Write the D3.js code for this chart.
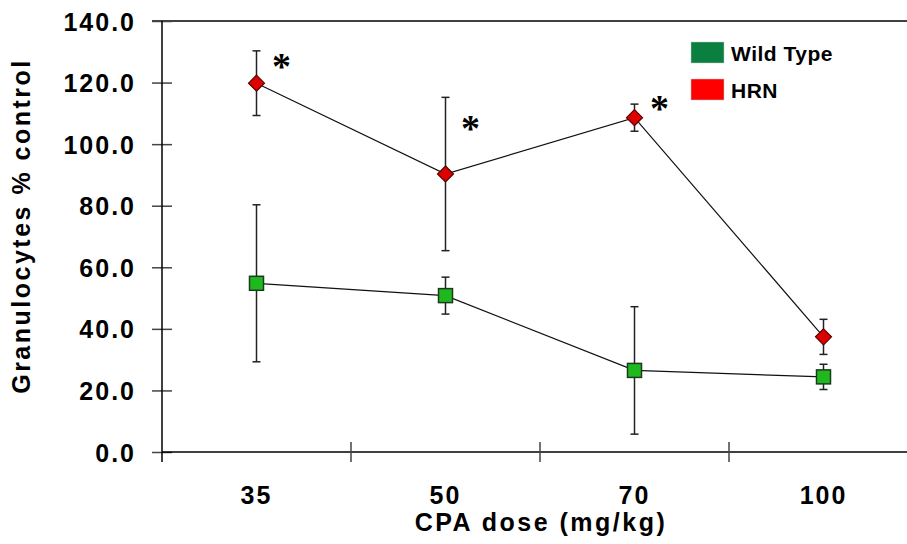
<!DOCTYPE html>
<html>
<head>
<meta charset="utf-8">
<script src="https://cdn.jsdelivr.net/npm/d3@7"></script>
<style>
  body { margin: 0; background: #fff; }
  svg { display: block; }
  text { font-family: "Liberation Sans", Arial, sans-serif; font-weight: bold; fill: #000; }
</style>
</head>
<body>
<div id="main"></div>
<script>
const W = 907;
const H = 544;

// data
const doses = ["35", "50", "70", "100"];
const wildType = [54.8, 50.8, 26.5, 24.4];
const wildTypeErr = [25.5, 6.0, 20.7, 4.1];
const hrn = [119.8, 90.3, 108.6, 37.4];
const hrnErr = [10.5, 24.9, 4.4, 5.7];
const starDoses = ["35", "50", "70"];
const starValues = [127.4, 107.3, 113.8];
const yTicks = [0, 20, 40, 60, 80, 100, 120, 140];
const legendLabels = ["Wild Type", "HRN"];
const legendColors = ["#0a7f3f", "#ff0000"];

const margin = { left: 162, right: 918, top: 21, bottom: 452 };

var svg = d3.select("#main").append("svg")
    .attr("width", W)
    .attr("height", H);

var x = d3.scaleBand().domain(doses).range([margin.left, margin.right]);
var y = d3.scaleLinear().domain([0, 140]).range([margin.bottom, margin.top]);
var cx = d => x(d) + x.bandwidth() / 2;

// top frame line
svg.append("line")
    .attr("x1", margin.left - 10).attr("x2", margin.right)
    .attr("y1", y(140)).attr("y2", y(140))
    .attr("stroke", "#000").attr("stroke-width", 1.5);

// y axis
var yAxis = svg.append("g")
    .attr("transform", `translate(${margin.left},0)`)
    .call(d3.axisLeft(y).tickValues(yTicks).tickSize(10).tickPadding(0).tickFormat(d3.format(".1f")));
yAxis.select(".domain").remove();
yAxis.selectAll(".tick line").attr("x1", -10).attr("x2", 10).attr("stroke", "#444").attr("stroke-width", 1.5);
yAxis.selectAll(".tick text")
    .attr("x", -26)
    .attr("dy", "0.36em")
    .style("font-size", "25px")
    .style("letter-spacing", "2px")
    .style("font-family", "'Liberation Sans', Arial, sans-serif")
    .style("font-weight", "bold");
svg.append("line")
    .attr("x1", margin.left).attr("x2", margin.left)
    .attr("y1", margin.top).attr("y2", margin.bottom + 10)
    .attr("stroke", "#000").attr("stroke-width", 1.5);

// x axis
var xAxis = svg.append("g")
    .attr("transform", `translate(0,${margin.bottom})`)
    .call(d3.axisBottom(x).tickSize(0).tickPadding(0));
xAxis.select(".domain").remove();
xAxis.selectAll(".tick text")
    .attr("y", 52)
    .attr("dy", 0)
    .style("font-size", "25px")
    .style("letter-spacing", "2px")
    .style("font-family", "'Liberation Sans', Arial, sans-serif")
    .style("font-weight", "bold");
svg.append("line")
    .attr("x1", margin.left).attr("x2", margin.right)
    .attr("y1", y(0)).attr("y2", y(0))
    .attr("stroke", "#000").attr("stroke-width", 1.5);
svg.selectAll("line.xtick")
    .data(doses.slice(1))
    .enter()
    .append("line")
    .attr("class", "xtick")
    .attr("x1", d => x(d)).attr("x2", d => x(d))
    .attr("y1", y(0) - 10).attr("y2", y(0) + 10)
    .attr("stroke", "#444").attr("stroke-width", 1.5);

// axis titles
svg.append("text")
    .attr("x", 541).attr("y", 531)
    .attr("text-anchor", "middle")
    .style("font-size", "25px")
    .style("letter-spacing", "2.5px")
    .text("CPA dose (mg/kg)");
svg.append("text")
    .attr("transform", "translate(30,226) rotate(-90)")
    .attr("text-anchor", "middle")
    .style("font-size", "25px")
    .style("letter-spacing", "2.5px")
    .text("Granulocytes % control");

// series
var drawSeries = function (values, errs, cls) {
    let pts = doses.map((d, i) => ({ d: d, v: values[i], e: errs[i] }));
    let g = svg.append("g").attr("class", cls);
    g.selectAll("line.err")
        .data(pts).enter().append("line")
        .attr("class", "err")
        .attr("x1", p => cx(p.d)).attr("x2", p => cx(p.d))
        .attr("y1", p => y(p.v + p.e)).attr("y2", p => y(p.v - p.e))
        .attr("stroke", "#222").attr("stroke-width", 1.5);
    [1, -1].forEach(function (s) {
        g.selectAll("line.cap" + s)
            .data(pts).enter().append("line")
            .attr("x1", p => cx(p.d) - 4).attr("x2", p => cx(p.d) + 4)
            .attr("y1", p => y(p.v + s * p.e)).attr("y2", p => y(p.v + s * p.e))
            .attr("stroke", "#222").attr("stroke-width", 1.5);
    });
    g.append("path")
        .datum(pts)
        .attr("fill", "none")
        .attr("stroke", "#111")
        .attr("stroke-width", 1.2)
        .attr("d", d3.line().x(p => cx(p.d)).y(p => y(p.v)));
    return { g: g, pts: pts };
};

var wt = drawSeries(wildType, wildTypeErr, "wt");
wt.g.selectAll("rect.mk")
    .data(wt.pts).enter().append("rect")
    .attr("class", "mk")
    .attr("x", p => cx(p.d) - 7).attr("y", p => y(p.v) - 7)
    .attr("width", 14).attr("height", 14)
    .attr("fill", "#1fb81f").attr("stroke", "#1c3a1c").attr("stroke-width", 1.5);

var hr = drawSeries(hrn, hrnErr, "hrn");
hr.g.selectAll("path.mk")
    .data(hr.pts).enter().append("path")
    .attr("class", "mk")
    .attr("d", p => `M${cx(p.d)},${y(p.v) - 8}L${cx(p.d) + 8},${y(p.v)}L${cx(p.d)},${y(p.v) + 8}L${cx(p.d) - 8},${y(p.v)}Z`)
    .attr("fill", "#dd0000").attr("stroke", "#5a0000").attr("stroke-width", 1.2);

// significance stars
svg.selectAll("text.star")
    .data(starDoses.map((d, i) => ({ d: d, v: starValues[i] })))
    .enter().append("text")
    .attr("class", "star")
    .attr("x", p => cx(p.d) + 25)
    .attr("y", p => y(p.v) + 19)
    .attr("text-anchor", "middle")
    .style("font-family", "'Liberation Serif', 'Times New Roman', serif")
    .style("font-weight", "bold")
    .style("font-size", "38px")
    .text("*");

// legend
var leg = svg.append("g").attr("transform", "translate(691,42)");
leg.selectAll("rect")
    .data(legendLabels).enter().append("rect")
    .attr("x", 0).attr("y", (d, i) => i * 37)
    .attr("width", 33).attr("height", 21)
    .attr("fill", (d, i) => legendColors[i])
    .attr("stroke", "#c8c8c8").attr("stroke-width", 0.5);
leg.selectAll("text")
    .data(legendLabels).enter().append("text")
    .attr("x", 40).attr("y", (d, i) => i * 37 + 19)
    .style("font-size", "21px")
    .style("letter-spacing", "0.5px")
    .text(d => d);
</script>
</body>
</html>
